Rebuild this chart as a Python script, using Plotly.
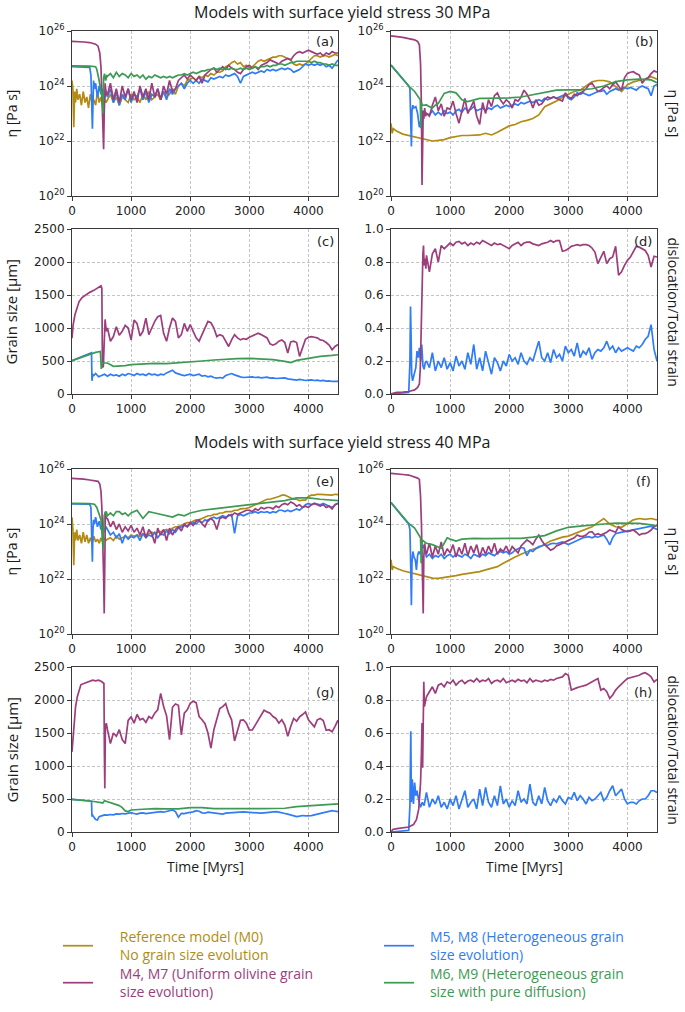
import plotly.graph_objects as go

# ---------------- common time grid (Myr) for the dense parts ----------------
GRID = list(range(600, 4501, 50))

GOLD = '#B38B12'
MAGENTA = '#9C3D7C'
BLUE = '#2F7CF6'
GREEN = '#3D9A54'

# ============ (a) viscosity, 30 MPa  (log10 Pa s) ============
A_GOLD_T0 = [0, 15, 30, 45, 60, 80, 100, 130, 160, 190, 220, 250, 280, 310, 340, 370, 400, 430, 460, 490, 520, 550, 575]
A_GOLD_V0 = [24.2, 23.9, 22.5, 23.8, 23.4, 23.9, 23.5, 23.7, 23.3, 23.8, 23.4, 23.6, 23.2, 23.7, 23.4, 23.5, 23.3, 23.8, 23.4, 23.6, 23.3, 23.5, 23.4]
A_GOLD_G = [23.5, 23.7, 23.4, 23.6, 23.3, 23.6, 23.5, 23.4, 23.7,
            23.5, 23.6, 23.4, 23.7, 23.5, 23.8, 23.5, 23.6, 23.7, 23.5,
            23.8, 23.6, 23.7, 23.9, 23.7, 24.0, 24.1, 24.0, 24.2, 24.25,
            24.3, 24.2, 24.35, 24.3, 24.4, 24.35, 24.45, 24.4, 24.5, 24.5,
            24.55, 24.7, 24.75, 24.85, 24.9, 24.8, 24.85, 24.7, 24.75, 24.65,
            24.7, 24.8, 24.9, 24.95, 24.9, 24.95, 25.0, 25.05, 25.05, 25.1,
            25.1, 25.05, 25.0, 24.95, 24.8, 24.75, 24.8, 24.75, 24.8, 24.9,
            25.0, 25.1, 25.1, 25.05, 25.1, 25.1, 25.05, 25.1, 25.15, 25.1]
A_MAG_T0 = [0, 100, 200, 300, 400, 440, 470, 490, 505, 515, 525, 535, 545, 560, 580]
A_MAG_V0 = [25.62, 25.62, 25.6, 25.58, 25.52, 25.45, 25.2, 24.7, 23.8, 22.8, 21.9, 21.7, 23.0, 24.1, 23.7]
A_MAG_G = [23.7, 24.1, 23.5, 23.9, 23.4, 24.0, 23.6, 23.9, 23.5,
           23.8, 23.4, 24.0, 23.6, 23.9, 23.5, 24.1, 23.6, 23.9, 23.5,
           24.0, 23.7, 24.2, 23.8, 23.9, 24.2, 24.3, 24.4, 24.25, 24.4,
           24.3, 24.2, 24.35, 24.1, 24.4, 24.5, 24.6, 24.65, 24.5, 24.6,
           24.7, 24.6, 24.75, 24.65, 24.6, 24.5, 24.45, 24.6, 24.7, 24.75,
           24.65, 24.7, 24.6, 24.75, 24.8, 24.85, 24.95, 24.9, 24.85, 24.8,
           24.9, 24.95, 25.0, 24.95, 25.1, 25.2, 25.25, 25.2, 25.25, 25.3,
           25.25, 25.2, 25.15, 25.2, 25.1, 25.2, 25.15, 25.25, 25.2, 25.2]
A_BLUE_T0 = [0, 100, 200, 300, 320, 335, 345, 355, 365, 380, 400, 430, 460, 490, 520, 550, 575]
A_BLUE_V0 = [24.7, 24.7, 24.7, 24.68, 24.4, 23.5, 22.45, 23.3, 24.2, 23.9, 24.1, 23.6, 24.0, 23.7, 23.9, 23.5, 23.8]
A_BLUE_G = [23.6, 23.9, 23.4, 23.8, 23.3, 23.7, 23.5, 23.9, 23.4,
            23.7, 23.6, 23.9, 23.5, 23.8, 23.4, 23.7, 23.6, 23.9, 23.5,
            23.8, 23.5, 23.9, 23.7, 23.9, 24.0, 24.1, 23.9, 24.1, 24.2,
            24.1, 24.2, 24.1, 24.25, 24.2, 24.15, 24.3, 24.25, 24.3, 24.35,
            24.3, 24.4, 24.35, 24.4, 24.45, 24.35, 24.1, 24.35, 24.4, 24.45,
            24.5, 24.45, 24.5, 24.55, 24.5, 24.6, 24.55, 24.6, 24.55, 24.6,
            24.65, 24.6, 24.65, 24.6, 24.5, 24.55, 24.6, 24.7, 24.8, 24.75,
            24.8, 24.75, 24.8, 24.75, 24.8, 24.7, 24.75, 24.65, 24.8, 24.95]
A_GREEN_T0 = [0, 100, 200, 300, 400, 420, 450, 480, 510, 525, 535, 550, 570, 590]
A_GREEN_V0 = [24.73, 24.73, 24.72, 24.72, 24.7, 24.6, 24.3, 24.0, 23.6, 23.0, 24.3, 24.45, 24.2, 24.4]
A_GREEN_G = [24.35, 24.45, 24.3, 24.5, 24.35, 24.45, 24.4, 24.3, 24.45,
             24.35, 24.4, 24.3, 24.4, 24.25, 24.35, 24.3, 24.4, 24.35, 24.3,
             24.35, 24.3, 24.35, 24.3, 24.35, 24.4, 24.4, 24.45, 24.4, 24.45,
             24.5, 24.45, 24.5, 24.55, 24.55, 24.6, 24.6, 24.65, 24.6, 24.65,
             24.6, 24.65, 24.6, 24.65, 24.6, 24.6, 24.65, 24.6, 24.65, 24.6,
             24.65, 24.7, 24.65, 24.7, 24.7, 24.75, 24.7, 24.75, 24.75, 24.8,
             24.8, 24.75, 24.8, 24.85, 24.85, 24.9, 24.9, 24.9, 24.9, 24.9,
             24.85, 24.9, 24.85, 24.85, 24.8, 24.8, 24.75, 24.8, 24.75, 24.75]

# ============ (b) viscosity, 30 MPa ============
B_GOLD_T = [0, 20, 40] + [100 * i for i in range(1, 46)]
B_GOLD_V = [22.64, 22.28, 22.45,
            22.35, 22.25, 22.2, 22.15, 22.1, 22.05, 22.0, 22.02, 22.05, 22.12,
            22.15, 22.2, 22.2, 22.22, 22.22, 22.28, 22.22, 22.32, 22.45, 22.55,
            22.6, 22.7, 22.75, 22.82, 22.95, 23.25, 23.35, 23.45, 23.6, 23.7,
            23.8, 23.85, 24.0, 24.15, 24.2, 24.2, 24.15, 23.98, 23.8, 24.05,
            24.15, 24.2, 24.25, 24.34, 24.25]
B_MAG_T0 = [0, 100, 200, 300, 400, 450, 480, 500, 515, 525, 535, 545, 555, 570, 585]
B_MAG_V0 = [25.82, 25.8, 25.77, 25.72, 25.68, 25.62, 25.5, 24.8, 23.2, 20.4, 21.6, 23.1, 22.8, 23.2, 22.9]
B_MAG_G = [23.0, 22.9, 23.3, 23.6, 23.1, 23.35, 22.9, 23.2, 23.15,
           23.45, 23.0, 22.65, 23.1, 23.55, 23.0, 23.2, 23.45, 22.9, 22.6,
           23.4, 23.0, 23.5, 23.25, 23.65, 23.75, 23.5, 23.35, 23.5, 23.4,
           23.2, 23.5, 23.45, 23.6, 23.85, 23.7, 23.5, 23.2, 23.5, 23.3,
           23.35, 23.5, 23.6, 23.55, 23.6, 23.55, 23.5, 23.45, 23.75, 23.6,
           23.55, 23.7, 23.65, 23.75, 23.8, 23.9, 24.05, 24.1, 23.95, 23.8,
           23.85, 23.95, 24.0, 23.9, 24.05, 24.15, 24.0, 23.85, 24.3, 24.46,
           24.5, 24.52, 24.45, 24.4, 24.1, 24.25, 24.3, 24.45, 24.55, 24.5]
B_BLUE_T0 = [0, 100, 200, 300, 320, 335, 345, 355, 370, 390, 420, 450, 480, 510, 540, 570]
B_BLUE_V0 = [24.76, 24.5, 24.25, 24.0, 23.9, 22.8, 21.8, 23.1, 23.3, 23.2, 23.25, 23.0, 22.5, 22.8, 23.1, 22.95]
B_BLUE_G = [23.0, 22.95, 23.1, 22.95, 23.05, 22.95, 23.1, 23.0, 23.05,
            22.95, 23.1, 23.15, 23.05, 23.2, 23.1, 23.15, 23.25, 23.1, 23.15,
            23.2, 23.1, 23.2, 23.15, 23.25, 23.3, 23.2, 23.25, 23.3, 23.25,
            23.3, 23.35, 23.3, 23.4, 23.35, 23.4, 23.45, 23.4, 23.45, 23.5,
            23.45, 23.55, 23.5, 23.55, 23.6, 23.55, 23.6, 23.65, 23.7, 23.55,
            23.5, 23.6, 23.75, 23.7, 23.75, 23.7, 23.65, 23.7, 23.75, 23.8,
            23.8, 23.85, 23.7, 23.8, 23.85, 23.9, 23.85, 23.9, 23.95, 23.9,
            23.95, 23.9, 23.85, 23.95, 24.0, 23.95, 23.9, 23.65, 24.0, 24.05]
B_GREEN_T = [0, 100, 200, 300, 400, 470, 495, 505, 515, 530, 560, 600, 650, 700, 750, 800, 900, 1000, 1100, 1200,
             1300, 1400, 1500, 1600, 1700, 1800, 1900, 2000, 2200, 2400, 2600, 2800, 3000, 3200, 3400, 3600, 3800,
             4000, 4200, 4400, 4500]
B_GREEN_V = [24.76, 24.5, 24.25, 24.0, 23.8, 23.6, 23.5, 22.46, 23.4, 23.3, 23.3, 23.31, 23.25, 23.2, 23.3, 23.37,
             23.73, 23.8, 23.75, 23.5, 23.43, 23.5, 23.55, 23.55, 23.55, 23.55, 23.57, 23.57, 23.6, 23.68, 23.75,
             23.85, 23.86, 23.86, 23.9, 24.0, 24.16, 24.22, 24.25, 24.22, 24.12]

# ============ (c) grain size, 30 MPa (um) ============
C_MAG_T0 = [0, 20, 50, 80, 120, 170, 230, 300, 370, 440, 490, 505, 515, 530, 545, 560, 580]
C_MAG_V0 = [845, 1050, 1200, 1300, 1400, 1460, 1500, 1540, 1570, 1610, 1640, 1600, 400, 420, 900, 1130, 950]
C_MAG_G = [1000, 800, 870, 1020, 890, 950, 1040, 1000, 820,
           1120, 1070, 880, 950, 1150, 900, 1000, 1100, 1170, 1190,
           920, 800, 1000, 1150, 1100, 850, 900, 1070, 950, 1050,
           950, 850, 800, 900, 1000, 1100, 1080, 1000, 870, 900,
           880, 800, 720, 820, 900, 850, 820, 840, 830, 860,
           880, 900, 920, 900, 880, 850, 760, 740, 760, 800,
           820, 780, 620, 790, 800, 780, 570, 700, 830, 860,
           870, 860, 850, 820, 810, 780, 740, 670, 720, 750]
C_GREEN_T = [0, 100, 200, 300, 400, 480, 495, 510, 530, 550, 600, 700, 800, 900, 1000, 1200, 1400, 1600, 1800,
             2000, 2200, 2400, 2600, 2800, 3000, 3200, 3400, 3600, 3700, 3800, 4000, 4200, 4400, 4500]
C_GREEN_V = [506, 540, 570, 605, 630, 645, 380, 470, 470, 480, 470, 420, 420, 430, 445, 455, 465, 460, 470,
             480, 500, 515, 530, 535, 541, 530, 520, 495, 476, 510, 545, 570, 585, 595]
C_BLUE_T0 = [0, 100, 200, 300, 330, 338, 350, 370, 400, 450, 500, 550]
C_BLUE_V0 = [506, 540, 570, 605, 625, 200, 300, 280, 310, 260, 280, 300]
C_BLUE_G = [270, 300, 280, 290, 270, 300, 280, 310, 300,
            280, 310, 290, 300, 280, 310, 290, 300, 280, 300,
            290, 320, 340, 360, 320, 300, 290, 280, 290, 300,
            280, 290, 300, 270, 280, 260, 270, 250, 240, 250,
            240, 280, 300, 310, 290, 270, 260, 250, 255, 250,
            260, 250, 255, 245, 250, 255, 240, 245, 235, 240,
            240, 245, 230, 220, 215, 210, 220, 210, 205, 210,
            215, 205, 210, 200, 205, 195, 200, 190, 185, 190]

# ============ (d) dislocation / total strain, 30 MPa ============
D_MAG_T0 = [0, 100, 200, 300, 400, 450, 480, 495, 505, 515, 528, 540, 550, 560, 575, 590]
D_MAG_V0 = [0.0, 0.01, 0.012, 0.015, 0.025, 0.04, 0.06, 0.15, 0.3, 0.5, 0.71, 0.85, 0.9, 0.78, 0.82, 0.76]
D_MAG_G = [0.84, 0.74, 0.85, 0.88, 0.8, 0.9, 0.88, 0.9, 0.915,
           0.9, 0.92, 0.925, 0.91, 0.92, 0.9, 0.915, 0.905, 0.92, 0.91,
           0.93, 0.92, 0.91, 0.9, 0.915, 0.905, 0.91, 0.9, 0.885, 0.88,
           0.9, 0.91, 0.92, 0.9, 0.915, 0.92, 0.92, 0.91, 0.905, 0.9,
           0.91, 0.915, 0.92, 0.93, 0.92, 0.93, 0.93, 0.865, 0.87, 0.88,
           0.895, 0.9, 0.905, 0.9, 0.905, 0.905, 0.9, 0.885, 0.86, 0.79,
           0.83, 0.865, 0.79, 0.82, 0.83, 0.895, 0.72, 0.74, 0.78, 0.81,
           0.83, 0.86, 0.895, 0.89, 0.88, 0.87, 0.84, 0.77, 0.835, 0.83]
D_BLUE_T0 = [0, 100, 200, 300, 320, 330, 340, 350, 365, 380, 400, 420, 440, 460, 480, 500, 520, 540, 560, 580]
D_BLUE_V0 = [0.0, 0.002, 0.004, 0.01, 0.19, 0.53, 0.35, 0.12, 0.08, 0.1, 0.12, 0.16, 0.26, 0.22, 0.28, 0.2, 0.3, 0.17, 0.15, 0.19]
D_BLUE_G = [0.2, 0.16, 0.25, 0.14, 0.2, 0.16, 0.22, 0.15, 0.19,
            0.14, 0.23, 0.17, 0.2, 0.15, 0.25, 0.18, 0.3, 0.15, 0.22,
            0.14, 0.26, 0.18, 0.12, 0.22, 0.19, 0.14, 0.2, 0.17, 0.24,
            0.2, 0.22, 0.18, 0.25, 0.2, 0.18, 0.22, 0.2, 0.26, 0.32,
            0.22, 0.2, 0.25, 0.19, 0.27, 0.22, 0.24, 0.2, 0.29, 0.25,
            0.27, 0.23, 0.31, 0.22, 0.26, 0.24, 0.28, 0.21, 0.25, 0.27,
            0.26, 0.28, 0.32, 0.27, 0.29, 0.25, 0.28, 0.26, 0.27, 0.28,
            0.27, 0.26, 0.29, 0.28, 0.3, 0.33, 0.35, 0.42, 0.27, 0.2]

# ============ (e) viscosity, 40 MPa ============
E_GOLD_T0 = [0, 15, 30, 45, 60, 80, 100, 130, 160, 190, 220, 250, 280, 310, 340, 370, 400, 430, 460, 490, 520, 550, 575]
E_GOLD_V0 = [24.24, 23.8, 22.5, 23.7, 23.4, 23.8, 23.4, 23.6, 23.3, 23.7, 23.35, 23.6, 23.3, 23.5, 23.3, 23.55, 23.35, 23.45, 23.3, 23.5, 23.35, 23.5, 23.4]
E_GOLD_G = [23.45, 23.5, 23.4, 23.55, 23.45, 23.5, 23.55, 23.5, 23.6,
            23.55, 23.6, 23.55, 23.65, 23.6, 23.65, 23.7, 23.65, 23.7, 23.72,
            23.75, 23.8, 23.75, 23.85, 23.9, 23.9, 23.95, 24.0, 24.05, 24.05,
            24.1, 24.15, 24.15, 24.2, 24.25, 24.3, 24.3, 24.35, 24.35, 24.4,
            24.4, 24.45, 24.45, 24.45, 24.5, 24.5, 24.55, 24.55, 24.57, 24.6,
            24.65, 24.7, 24.75, 24.8, 24.87, 24.9, 24.9, 24.93, 24.95, 25.0,
            25.05, 25.05, 25.0, 24.95, 24.9, 24.9, 24.85, 24.87, 24.87, 25.0,
            25.05, 25.05, 25.08, 25.08, 25.07, 25.05, 25.05, 25.05, 25.08, 25.07]
E_MAG_T0 = [0, 100, 200, 300, 400, 440, 470, 490, 505, 515, 525, 535, 545, 550, 555, 565, 580]
E_MAG_V0 = [25.66, 25.65, 25.63, 25.6, 25.58, 25.55, 25.45, 25.2, 24.6, 23.9, 22.8, 22.1, 20.75, 21.8, 24.0, 24.45, 24.2]
E_MAG_G = [24.2, 23.9, 24.1, 23.8, 24.0, 23.7, 23.9, 23.75, 23.95,
           23.7, 23.85, 23.6, 23.9, 23.5, 23.8, 23.65, 23.3, 23.85, 23.6,
           23.8, 23.4, 23.85, 23.6, 23.8, 23.9, 23.75, 24.0, 23.9, 24.05,
           23.95, 24.1, 24.15, 24.0, 23.9, 24.15, 24.2, 24.1, 23.8, 24.2,
           24.25, 24.2, 24.33, 24.3, 24.4, 24.35, 24.4, 24.45, 24.5, 24.5,
           24.45, 24.55, 24.5, 24.6, 24.55, 24.6, 24.6, 24.55, 24.65, 24.6,
           24.7, 24.75, 24.7, 24.8, 24.75, 24.65, 24.7, 24.6, 24.65, 24.6,
           24.7, 24.75, 24.7, 24.65, 24.7, 24.6, 24.65, 24.55, 24.7, 24.75]
E_BLUE_T0 = [0, 100, 200, 300, 320, 335, 345, 355, 365, 380, 400, 430, 460, 490, 520, 550, 575]
E_BLUE_V0 = [24.73, 24.73, 24.73, 24.72, 24.6, 23.6, 22.63, 23.8, 24.15, 24.0, 24.25, 23.9, 24.1, 23.8, 24.0, 23.7, 23.9]
E_BLUE_G = [23.8, 23.6, 23.7, 23.5, 23.65, 23.3, 23.6, 23.45, 23.55,
            23.5, 23.6, 23.4, 23.65, 23.5, 23.6, 23.55, 23.7, 23.5, 23.65,
            23.6, 23.75, 23.65, 23.8, 23.7, 23.85, 23.9, 23.95, 23.9, 24.0,
            24.05, 24.0, 24.1, 24.05, 24.15, 24.1, 24.2, 24.25, 24.2, 24.25,
            24.3, 24.25, 24.3, 24.35, 23.66, 24.3, 24.35, 24.3, 24.35, 24.4,
            24.4, 24.45, 24.4, 24.45, 24.42, 24.45, 24.4, 24.45, 24.42, 24.5,
            24.5, 24.45, 24.5, 24.45, 24.5, 24.55, 24.5, 24.6, 24.7, 24.75,
            24.7, 24.75, 24.72, 24.7, 24.75, 24.7, 24.65, 24.6, 24.7, 24.75]
E_GREEN_T = [0, 100, 200, 300, 380, 420, 460, 490, 510, 525, 535, 545, 560, 580, 600, 650, 700, 750, 800, 850,
             900, 950, 1000, 1100, 1200, 1300, 1400, 1500, 1600, 1700, 1800, 1900, 2000, 2200, 2400, 2600, 2800,
             3000, 3200, 3400, 3600, 3800, 4000, 4200, 4400, 4500]
E_GREEN_V = [24.75, 24.75, 24.74, 24.74, 24.72, 24.6, 24.35, 24.15, 23.6, 23.1, 23.8, 24.3, 24.4, 24.45, 24.3,
             24.4, 24.3, 24.45, 24.45, 24.35, 24.4, 24.3, 24.4, 24.5, 24.2, 24.45, 24.4, 24.35, 24.3, 24.25,
             24.35, 24.3, 24.4, 24.5, 24.55, 24.6, 24.63, 24.7, 24.75, 24.8, 24.85, 24.95, 24.95, 24.9, 24.87, 24.85]

# ============ (f) viscosity, 40 MPa ============
F_GOLD_T = [0, 20, 40] + [100 * i for i in range(1, 46)]
F_GOLD_V = [22.7, 22.33, 22.45,
            22.38, 22.3, 22.25, 22.2, 22.15, 22.1, 22.03, 22.02, 22.05, 22.08,
            22.12, 22.17, 22.2, 22.23, 22.27, 22.33, 22.38, 22.45, 22.57, 22.7,
            22.8, 22.9, 23.0, 23.08, 23.15, 23.28, 23.38, 23.45, 23.52, 23.56,
            23.65, 23.72, 23.82, 23.9, 24.05, 24.2, 24.0, 23.9, 23.88, 24.02,
            24.15, 24.2, 24.17, 24.2, 24.15]
F_MAG_T0 = [0, 100, 200, 300, 400, 450, 480, 500, 515, 525, 535, 545, 555, 570, 585]
F_MAG_V0 = [25.84, 25.83, 25.8, 25.78, 25.72, 25.67, 25.62, 25.0, 24.0, 22.6, 21.2, 20.75, 22.8, 23.3, 23.0]
F_MAG_G = [22.9, 23.3, 22.8, 23.2, 22.9, 23.35, 22.85, 23.1, 22.95,
           23.25, 22.8, 23.15, 22.9, 23.3, 22.85, 23.2, 22.95, 23.25, 22.8,
           23.15, 22.9, 23.2, 22.95, 23.3, 22.9, 23.1, 23.0, 23.2, 22.95,
           23.18, 23.05, 22.95, 23.2, 23.3, 23.42, 23.35, 23.25, 23.45, 23.6,
           23.4, 23.25, 23.15, 23.05, 23.1, 23.2, 23.25, 23.3, 23.35, 23.4,
           23.45, 23.5, 23.6, 23.55, 23.55, 23.6, 23.7, 23.72, 23.6, 23.65,
           23.6, 23.65, 23.7, 23.78, 23.75, 23.7, 23.9, 23.8, 23.75, 23.72,
           23.75, 23.78, 23.7, 23.6, 23.65, 23.65, 23.7, 23.78, 23.9, 23.96]
F_BLUE_T0 = [0, 100, 200, 300, 320, 335, 345, 355, 370, 390, 410, 430, 450, 470, 490, 510, 530, 550, 575]
F_BLUE_V0 = [24.78, 24.5, 24.25, 24.0, 23.8, 22.3, 21.05, 22.6, 23.0, 22.8, 22.7, 22.33, 22.85, 23.0, 22.9, 23.1, 23.2, 23.24, 23.0]
F_BLUE_G = [22.8, 22.9, 22.75, 22.85, 22.8, 22.9, 22.75, 22.85, 22.9,
            22.8, 22.9, 22.85, 22.8, 22.9, 22.85, 22.75, 22.9, 22.85, 22.8,
            22.9, 22.85, 22.95, 22.9, 22.85, 22.95, 23.0, 22.95, 23.0, 22.9,
            22.95, 23.05, 23.1, 23.15, 23.12, 22.85, 23.05, 23.0, 23.1, 23.18,
            23.2, 23.25, 23.22, 23.28, 23.3, 23.28, 23.32, 23.35, 23.3, 23.25,
            23.3, 23.35, 23.4, 23.45, 23.5, 23.52, 23.54, 23.5, 23.55, 23.52,
            23.55, 23.6, 23.45, 23.24, 23.5, 23.65, 23.68, 23.7, 23.72, 23.75,
            23.78, 23.8, 23.82, 23.84, 23.86, 23.88, 23.9, 23.92, 23.85, 23.8]
F_GREEN_T = [0, 100, 200, 300, 400, 480, 500, 510, 520, 540, 600, 700, 800, 850, 900, 950, 1000, 1100, 1200, 1400,
             1600, 1800, 2000, 2200, 2400, 2600, 2800, 3000, 3200, 3400, 3600, 3800, 4000, 4200, 4400, 4500]
F_GREEN_V = [24.78, 24.52, 24.27, 24.02, 23.85, 23.6, 23.5, 22.57, 23.3, 23.4, 23.3, 23.25, 23.15, 23.12, 23.3,
             23.5, 23.45, 23.38, 23.45, 23.48, 23.47, 23.48, 23.48, 23.48, 23.52, 23.58, 23.75, 23.88, 23.92,
             23.97, 24.0, 24.03, 24.03, 24.02, 23.97, 23.93]

# ============ (g) grain size, 40 MPa ============
G_MAG_T0 = [0, 20, 40, 60, 90, 120, 150, 200, 250, 300, 350, 400, 450, 500, 540, 548, 555, 565, 580]
G_MAG_V0 = [1215, 1500, 1750, 1895, 2050, 2150, 2230, 2250, 2270, 2280, 2300, 2290, 2300, 2280, 2250, 1200, 661, 1600, 1650]
G_MAG_G = [1550, 1340, 1500, 1450, 1550, 1400, 1340, 1690, 1744,
           1650, 1780, 1700, 1720, 1660, 1750, 1720, 1800, 1850, 2100,
           1900, 1760, 1400, 1890, 1940, 1920, 1470, 1800, 1850, 1950,
           1980, 1960, 1750, 1700, 1640, 1500, 1270, 1550, 1700, 1870,
           1900, 1946, 1800, 1700, 1380, 1550, 1694, 1700, 1650, 1543,
           1545, 1620, 1700, 1760, 1845, 1820, 1800, 1750, 1720, 1650,
           1700, 1620, 1450, 1600, 1720, 1680, 1744, 1780, 1820, 1700,
           1650, 1593, 1700, 1720, 1690, 1540, 1550, 1518, 1600, 1694]
G_GREEN_T = [0, 100, 200, 300, 400, 480, 520, 550, 600, 700, 800, 850, 900, 950, 1000, 1200, 1400, 1600, 1800,
             2000, 2200, 2400, 2600, 2800, 3000, 3200, 3400, 3600, 3800, 4000, 4200, 4400, 4500]
G_GREEN_V = [495, 490, 482, 470, 458, 445, 440, 475, 460, 440, 400, 370, 320, 310, 333, 345, 355, 350, 350,
             368, 370, 355, 352, 355, 355, 355, 357, 360, 385, 395, 405, 418, 425]
G_BLUE_T0 = [0, 100, 200, 300, 330, 338, 345, 360, 400, 430, 460, 500, 550]
G_BLUE_V0 = [495, 490, 482, 470, 462, 233, 260, 240, 190, 183, 233, 245, 258]
G_BLUE_G = [255, 265, 260, 273, 270, 280, 275, 290, 293,
            280, 270, 285, 290, 280, 285, 295, 290, 300, 309,
            300, 315, 325, 334, 310, 225, 283, 280, 290, 293,
            305, 324, 315, 290, 285, 300, 295, 290, 280, 283,
            270, 285, 290, 295, 300, 295, 300, 304, 300, 295,
            290, 285, 280, 285, 290, 295, 300, 305, 309, 300,
            295, 280, 270, 255, 240, 233, 240, 250, 245, 243,
            248, 260, 270, 280, 290, 300, 315, 324, 315, 310]

# ============ (h) dislocation / total strain, 40 MPa ============
H_MAG_T0 = [0, 30, 100, 200, 300, 380, 430, 470, 500, 515, 525, 535, 545, 555, 565, 580]
H_MAG_V0 = [0.0, 0.015, 0.02, 0.025, 0.03, 0.045, 0.075, 0.14, 0.3, 0.48, 0.66, 0.39, 0.8, 0.91, 0.76, 0.8]
H_MAG_G = [0.82, 0.85, 0.88, 0.84, 0.89, 0.9, 0.88, 0.91, 0.9,
           0.92, 0.89, 0.91, 0.92, 0.9, 0.915, 0.92, 0.91, 0.93, 0.91,
           0.92, 0.915, 0.93, 0.9, 0.915, 0.92, 0.91, 0.93, 0.905, 0.915,
           0.92, 0.91, 0.925, 0.915, 0.92, 0.905, 0.93, 0.91, 0.92, 0.915,
           0.91, 0.92, 0.915, 0.925, 0.92, 0.93, 0.935, 0.94, 0.96, 0.95,
           0.86, 0.87, 0.875, 0.88, 0.885, 0.89, 0.9, 0.91, 0.92, 0.93,
           0.86, 0.87, 0.85, 0.81, 0.83, 0.86, 0.88, 0.9, 0.915, 0.93,
           0.935, 0.94, 0.945, 0.95, 0.96, 0.965, 0.955, 0.94, 0.91, 0.925]
H_BLUE_T0 = [0, 100, 200, 300, 320, 335, 345, 360, 380, 400, 420, 440, 470, 500, 530, 560, 580]
H_BLUE_V0 = [0.0, 0.002, 0.005, 0.01, 0.16, 0.61, 0.18, 0.32, 0.17, 0.3, 0.22, 0.25, 0.19, 0.15, 0.18, 0.16, 0.2]
H_BLUE_G = [0.24, 0.15, 0.2, 0.17, 0.22, 0.15, 0.18, 0.14, 0.2,
            0.16, 0.22, 0.14, 0.19, 0.25, 0.15, 0.18, 0.2, 0.14, 0.26,
            0.16, 0.27, 0.18, 0.15, 0.22, 0.16, 0.28, 0.17, 0.2, 0.15,
            0.19, 0.16, 0.25, 0.18, 0.2, 0.17, 0.29, 0.18, 0.16, 0.22,
            0.17, 0.27, 0.19, 0.16, 0.2, 0.18, 0.22, 0.19, 0.17, 0.21,
            0.2, 0.24, 0.19, 0.22, 0.2, 0.17, 0.21, 0.19, 0.2, 0.22,
            0.24, 0.19, 0.21, 0.25, 0.28, 0.22, 0.24, 0.26, 0.2, 0.17,
            0.18, 0.18, 0.17, 0.19, 0.2, 0.2, 0.22, 0.25, 0.25, 0.24]

X_TICKS = [0, 1000, 2000, 3000, 4000]
LOG_TICKS = [1e20, 1e22, 1e24, 1e26]
LOG_TICKTEXT = ['10<sup>20</sup>', '10<sup>22</sup>', '10<sup>24</sup>', '10<sup>26</sup>']

LEGEND_NAMES = {
    GOLD: ['Reference model (M0)', 'No grain size evolution'],
    MAGENTA: ['M4, M7 (Uniform olivine grain', 'size evolution)'],
    BLUE: ['M5, M8 (Heterogeneous grain', 'size evolution)'],
    GREEN: ['M6, M9 (Heterogeneous grain', 'size with pure diffusion)'],
}
LEGEND_OF = {GOLD: 'legend', MAGENTA: 'legend2', BLUE: 'legend3', GREEN: 'legend4'}
PAD_OF = {GOLD: 6, MAGENTA: 6, BLUE: 3, GREEN: 3}


def colored(color):
    pad = '\u00a0' * PAD_OF[color]
    return '<br>'.join('<span style="color:%s">%s%s</span>' % (color, pad, p) for p in LEGEND_NAMES[color])


fig = go.Figure()


def add(panel, t, v, color, log=False, legend=False, width=1.7):
    ys = [10 ** x for x in v] if log else v
    n = min(len(t), len(ys))
    sfx = '' if panel == 1 else str(panel)
    fig.add_trace(go.Scatter(
        x=t[:n], y=ys[:n], mode='lines',
        line=dict(color=color, width=width),
        xaxis='x' + sfx, yaxis='y' + sfx,
        name=colored(color),
        showlegend=legend, legend=LEGEND_OF[color], hoverinfo='skip'))


# (a)
add(1, A_GOLD_T0 + GRID, A_GOLD_V0 + A_GOLD_G, GOLD, True, True)
add(1, A_BLUE_T0 + GRID, A_BLUE_V0 + A_BLUE_G, BLUE, True, True)
add(1, A_MAG_T0 + GRID, A_MAG_V0 + A_MAG_G, MAGENTA, True, True)
add(1, A_GREEN_T0 + GRID, A_GREEN_V0 + A_GREEN_G, GREEN, True, True)
# (b)
add(2, B_GOLD_T, B_GOLD_V, GOLD, True)
add(2, B_BLUE_T0 + GRID, B_BLUE_V0 + B_BLUE_G, BLUE, True)
add(2, B_MAG_T0 + GRID, B_MAG_V0 + B_MAG_G, MAGENTA, True)
add(2, B_GREEN_T, B_GREEN_V, GREEN, True)
# (c)
add(3, C_BLUE_T0 + GRID, C_BLUE_V0 + C_BLUE_G, BLUE)
add(3, C_MAG_T0 + GRID, C_MAG_V0 + C_MAG_G, MAGENTA)
add(3, C_GREEN_T, C_GREEN_V, GREEN)
# (d)
add(4, D_BLUE_T0 + GRID, D_BLUE_V0 + D_BLUE_G, BLUE)
add(4, D_MAG_T0 + GRID, D_MAG_V0 + D_MAG_G, MAGENTA)
# (e)
add(5, E_GOLD_T0 + GRID, E_GOLD_V0 + E_GOLD_G, GOLD, True)
add(5, E_BLUE_T0 + GRID, E_BLUE_V0 + E_BLUE_G, BLUE, True)
add(5, E_MAG_T0 + GRID, E_MAG_V0 + E_MAG_G, MAGENTA, True)
add(5, E_GREEN_T, E_GREEN_V, GREEN, True)
# (f)
add(6, F_GOLD_T, F_GOLD_V, GOLD, True)
add(6, F_BLUE_T0 + GRID, F_BLUE_V0 + F_BLUE_G, BLUE, True)
add(6, F_MAG_T0 + GRID, F_MAG_V0 + F_MAG_G, MAGENTA, True)
add(6, F_GREEN_T, F_GREEN_V, GREEN, True)
# (g)
add(7, G_BLUE_T0 + GRID, G_BLUE_V0 + G_BLUE_G, BLUE)
add(7, G_MAG_T0 + GRID, G_MAG_V0 + G_MAG_G, MAGENTA)
add(7, G_GREEN_T, G_GREEN_V, GREEN)
# (h)
add(8, H_BLUE_T0 + GRID, H_BLUE_V0 + H_BLUE_G, BLUE)
add(8, H_MAG_T0 + GRID, H_MAG_V0 + H_MAG_G, MAGENTA)

W, H = 685, 1012
XL = [72 / W, 338 / W]
XR = [391 / W, 657 / W]
ROWS = [(31, 196), (229, 394), (469, 634), (667, 832)]


def ydom(r):
    top, bot = ROWS[r]
    return [1 - bot / H, 1 - top / H]


AX_COLOR = '#3a3a3a'
TICKFONT = dict(family='DejaVu Sans', size=12, color='#222')
common = dict(showline=True, linecolor=AX_COLOR, linewidth=1.1, mirror=True,
              ticks='outside', ticklen=4, tickwidth=1, tickcolor=AX_COLOR,
              showgrid=True, gridcolor='#c4c4c4', griddash='3px,2px', gridwidth=0.8,
              zeroline=False, tickfont=TICKFONT)

layout = dict(width=W, height=H, margin=dict(l=0, r=0, t=0, b=0, autoexpand=False),
              paper_bgcolor='white', plot_bgcolor='white')

kinds = ['log', 'log', 'grain', 'strain', 'log', 'log', 'grain', 'strain']
for i in range(8):
    n = i + 1
    sfx = '' if n == 1 else str(n)
    row = i // 2
    xd = XL if i % 2 == 0 else XR
    xa = dict(common, domain=xd, anchor='y' + sfx, range=[0, 4500], tickvals=X_TICKS)
    if kinds[i] == 'log':
        ya = dict(common, domain=ydom(row), anchor='x' + sfx, type='log', range=[20, 26],
                  tickvals=LOG_TICKS, ticktext=LOG_TICKTEXT)
    elif kinds[i] == 'grain':
        ya = dict(common, domain=ydom(row), anchor='x' + sfx, range=[0, 2500],
                  tickvals=[0, 500, 1000, 1500, 2000, 2500])
    else:
        ya = dict(common, domain=ydom(row), anchor='x' + sfx, range=[0, 1],
                  tickvals=[0, 0.2, 0.4, 0.6, 0.8, 1.0], tickformat='.1f')
    layout['xaxis' + sfx] = xa
    layout['yaxis' + sfx] = ya

TXT = dict(family='Open Sans', size=14, color='#1a1a1a')
ANC = dict(xref='paper', yref='paper', showarrow=False, xanchor='center', yanchor='middle')
ann = []
for txt, py in [('Models with surface yield stress 30 MPa', 12), ('Models with surface yield stress 40 MPa', 442)]:
    ann.append(dict(ANC, text=txt, x=342 / W, y=1 - py / H,
                    font=dict(family='Open Sans', size=16, color='#1a1a1a')))
for xc in [205, 524]:
    ann.append(dict(ANC, text='Time [Myrs]', x=xc / W, y=1 - 866 / H,
                    font=dict(family='Open Sans', size=14, color='#1a1a1a')))
# left labels
for r, txt, sz in [(0, 'η [Pa s]', 14), (1, 'Grain size [µm]', 15), (2, 'η [Pa s]', 14), (3, 'Grain size [µm]', 15)]:
    top, bot = ROWS[r]
    ann.append(dict(ANC, text=txt, x=11 / W, y=1 - (top + bot) / 2 / H,
                    textangle=-90, font=dict(TXT, size=sz)))
for r, txt in [(0, 'η [Pa s]'), (1, 'dislocation/Total strain'), (2, 'η [Pa s]'), (3, 'dislocation/Total strain')]:
    top, bot = ROWS[r]
    ann.append(dict(ANC, text=txt, x=673 / W, y=1 - (top + bot) / 2 / H,
                    textangle=90, font=TXT))
# panel letters
LETTERS = [('(a)', 325, 42), ('(b)', 644, 42), ('(c)', 325, 241), ('(d)', 643, 241),
           ('(e)', 325, 481), ('(f)', 643, 481), ('(g)', 325, 692), ('(h)', 643, 692)]
for s, px, py in LETTERS:
    ann.append(dict(ANC, text=s, x=px / W, y=1 - py / H,
                    font=dict(family='DejaVu Sans', size=13, color='#222')))
layout['annotations'] = ann

LEG = dict(bgcolor='rgba(0,0,0,0)', font=dict(family='Open Sans', size=14),
           xanchor='left', yanchor='top', valign='middle', tracegroupgap=0)
layout['legend'] = dict(LEG, x=58 / W, y=1 - 921 / H)
layout['legend2'] = dict(LEG, x=58 / W, y=1 - 958 / H)
layout['legend3'] = dict(LEG, x=379 / W, y=1 - 921 / H)
layout['legend4'] = dict(LEG, x=379 / W, y=1 - 958 / H)

fig.update_layout(**layout)
fig.write_html('out.html', config={'displayModeBar': False},
               post_script="document.body.style.margin='0';document.body.style.padding='0';"
                           "document.documentElement.style.overflow='hidden';")
